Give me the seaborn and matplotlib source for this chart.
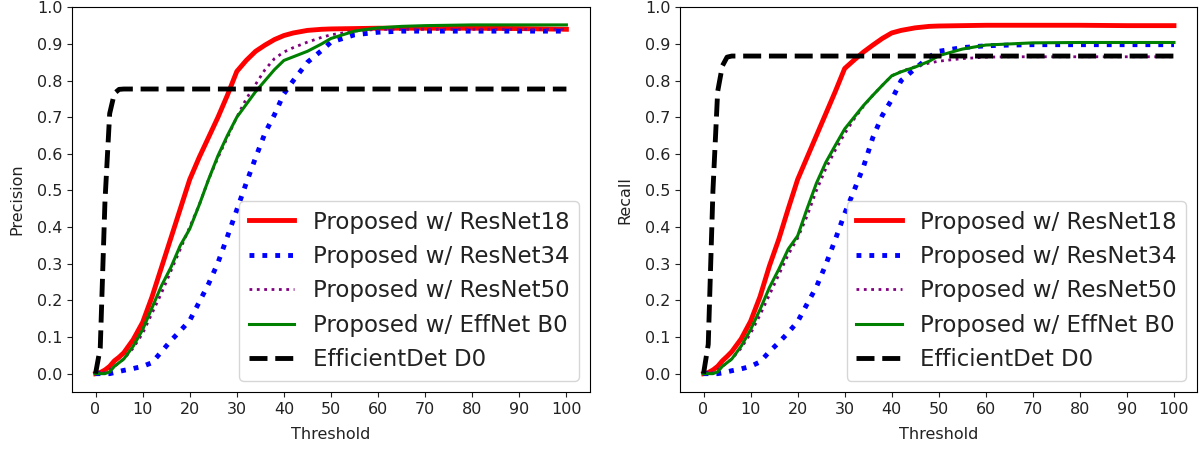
import matplotlib
matplotlib.use("Agg")
import matplotlib.pyplot as plt
import seaborn as sns

# threshold grid (x values)
thresholds = [0, 1, 2, 3, 4, 5, 6, 8, 10, 12, 14, 16, 18, 20, 22, 24, 26, 28, 30,
              32, 34, 36, 38, 40, 42, 45, 48, 50, 55, 60, 65, 70, 80, 90, 100]

labels = ['Proposed w/ ResNet18', 'Proposed w/ ResNet34', 'Proposed w/ ResNet50',
          'Proposed w/ EffNet B0', 'EfficientDet D0']

# Precision curves
prec_r18 = [0, 0.003, 0.01, 0.02, 0.035, 0.045, 0.057, 0.093, 0.14, 0.21, 0.29, 0.37, 0.45,
            0.53, 0.59, 0.645, 0.70, 0.76, 0.825, 0.855, 0.88, 0.897, 0.912, 0.923, 0.93,
            0.937, 0.94, 0.941, 0.942, 0.943, 0.943, 0.943, 0.943, 0.942, 0.94]
prec_r34 = [0, 0, 0, 0, 0.003, 0.006, 0.009, 0.014, 0.02, 0.03, 0.06, 0.09, 0.117, 0.145,
            0.195, 0.245, 0.303, 0.374, 0.447, 0.52, 0.59, 0.657, 0.707, 0.764, 0.80, 0.85,
            0.882, 0.905, 0.925, 0.932, 0.935, 0.935, 0.935, 0.935, 0.935]
prec_r50 = [0, 0, 0.003, 0.01, 0.02, 0.03, 0.04, 0.07, 0.11, 0.165, 0.22, 0.28, 0.34, 0.40,
            0.46, 0.53, 0.59, 0.645, 0.70, 0.75, 0.79, 0.83, 0.86, 0.878, 0.89, 0.905, 0.918,
            0.925, 0.935, 0.94, 0.94, 0.94, 0.94, 0.94, 0.94]
prec_b0 = [0, 0, 0, 0.005, 0.02, 0.03, 0.04, 0.075, 0.12, 0.18, 0.24, 0.29, 0.35, 0.395,
           0.46, 0.53, 0.595, 0.65, 0.70, 0.735, 0.77, 0.80, 0.83, 0.855, 0.865, 0.88, 0.90,
           0.915, 0.935, 0.944, 0.948, 0.95, 0.952, 0.952, 0.952]
prec_d0 = [0, 0.07, 0.47, 0.71, 0.765, 0.776, 0.777, 0.777, 0.777, 0.777, 0.777, 0.777,
           0.777, 0.777, 0.777, 0.777, 0.777, 0.777, 0.777, 0.777, 0.777, 0.777, 0.777,
           0.777, 0.777, 0.777, 0.777, 0.777, 0.777, 0.777, 0.777, 0.777, 0.777, 0.777, 0.777]

# Recall curves
rec_r18 = [0, 0.003, 0.01, 0.02, 0.035, 0.047, 0.06, 0.095, 0.143, 0.21, 0.294, 0.367, 0.45,
           0.53, 0.59, 0.65, 0.71, 0.77, 0.833, 0.856, 0.878, 0.897, 0.915, 0.93, 0.937,
           0.944, 0.948, 0.949, 0.95, 0.951, 0.951, 0.951, 0.951, 0.95, 0.95]
rec_r34 = [0, 0, 0, 0, 0.002, 0.005, 0.008, 0.013, 0.02, 0.032, 0.06, 0.085, 0.112, 0.142,
           0.19, 0.237, 0.298, 0.366, 0.437, 0.50, 0.565, 0.645, 0.705, 0.748, 0.80, 0.833,
           0.865, 0.88, 0.89, 0.895, 0.897, 0.898, 0.898, 0.898, 0.898]
rec_r50 = [0, 0, 0.003, 0.01, 0.02, 0.03, 0.04, 0.07, 0.11, 0.16, 0.215, 0.27, 0.325, 0.37,
           0.43, 0.50, 0.56, 0.61, 0.655, 0.695, 0.73, 0.76, 0.787, 0.813, 0.825, 0.838,
           0.848, 0.853, 0.86, 0.864, 0.865, 0.865, 0.865, 0.865, 0.865]
rec_b0 = [0, 0, 0, 0.005, 0.02, 0.03, 0.04, 0.075, 0.12, 0.175, 0.235, 0.285, 0.34, 0.376,
          0.45, 0.52, 0.577, 0.623, 0.668, 0.70, 0.732, 0.76, 0.787, 0.813, 0.824, 0.837,
          0.853, 0.868, 0.886, 0.897, 0.90, 0.903, 0.904, 0.904, 0.904]
rec_d0 = [0, 0.08, 0.5, 0.77, 0.84, 0.864, 0.867, 0.867, 0.867, 0.867, 0.867, 0.867, 0.867,
          0.867, 0.867, 0.867, 0.867, 0.867, 0.867, 0.867, 0.867, 0.867, 0.867, 0.867, 0.867,
          0.867, 0.867, 0.867, 0.867, 0.867, 0.867, 0.867, 0.867, 0.867, 0.867]

# line styles for the five methods
estilos = [
    dict(color='red', linestyle='-', linewidth=3.5),
    dict(color='blue', linestyle=':', linewidth=3.5),
    dict(color='purple', linestyle=':', linewidth=2),
    dict(color='green', linestyle='-', linewidth=2.2),
    dict(color='black', linestyle='--', linewidth=3.5),
]


def graficar(ax, series, ylabel):
    for valores, label, estilo in zip(series, labels, estilos):
        sns.lineplot(x=thresholds, y=valores, ax=ax, label=label, **estilo)
    ax.set_xlim(-5, 105)
    ax.set_ylim(-0.05, 1.0)
    ax.set_xticks(range(0, 101, 10))
    ax.set_yticks([i / 10 for i in range(11)])
    ax.tick_params(labelsize=11.5, colors='#222222', labelcolor='#222222')
    ax.set_xlabel('Threshold', fontsize=11.5, color='#222222', labelpad=7.5)
    ax.set_ylabel(ylabel, fontsize=11.5, color='#222222', labelpad=9)
    leg = ax.legend(loc='lower right', fontsize=16.5, handlelength=2.0)
    for t in leg.get_texts():
        t.set_color('#222222')


fig = plt.figure(figsize=(12.04, 4.49), dpi=100)
ax1 = fig.add_axes([0.0598, 0.127, 0.4302, 0.8567])
ax2 = fig.add_axes([0.5648, 0.127, 0.4298, 0.8567])

graficar(ax1, [prec_r18, prec_r34, prec_r50, prec_b0, prec_d0], 'Precision')
graficar(ax2, [rec_r18, rec_r34, rec_r50, rec_b0, rec_d0], 'Recall')

fig.savefig('out.png', dpi=100)
